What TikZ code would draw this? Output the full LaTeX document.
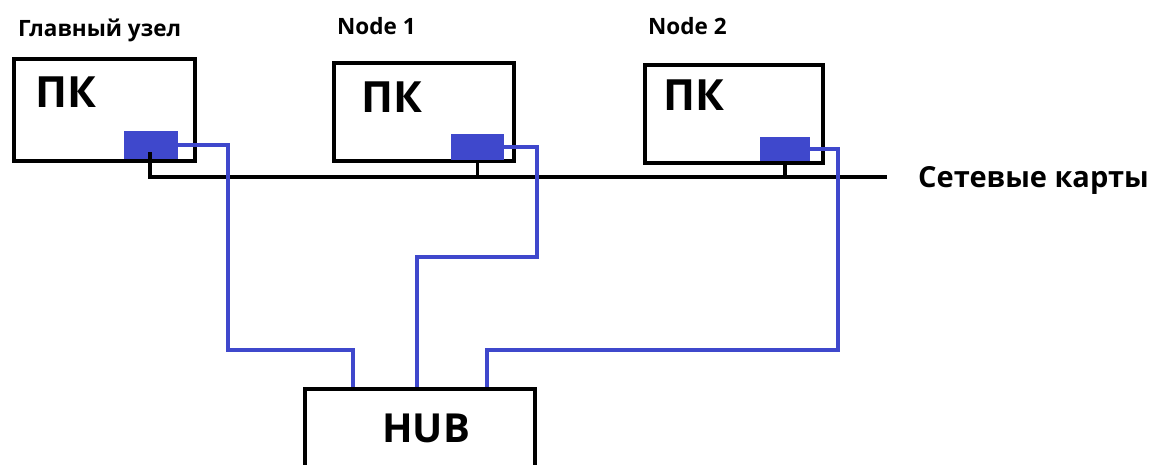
\documentclass[tikz,border=0pt]{standalone}
\usepackage{fontspec}
\setmainfont{Open Sans}
\definecolor{nicblue}{HTML}{3F48CC}
\begin{document}
\begin{tikzpicture}[x=1pt,y=-1pt,
  pcbox/.style={draw=black,line width=3.5pt,fill=white,anchor=north west,inner sep=0pt},
  nic/.style={fill=nicblue,anchor=north west,inner sep=0pt},
  wire/.style={draw=nicblue,line width=3.5pt,line join=miter},
  bus/.style={draw=black,line width=3.5pt},
  lbl/.style={anchor=base west,inner sep=0pt,font=\bfseries\fontsize{22.5}{26}\selectfont},
  pk/.style={anchor=base west,inner sep=0pt,font=\bfseries\fontsize{43}{50}\selectfont}]
\useasboundingbox[fill=white] (0,0) rectangle (1152,464);
% PC boxes
\node[pcbox,minimum width=181pt,minimum height=102pt] (pc1) at (12,57) {};
\node[pcbox,minimum width=180pt,minimum height=98pt] (pc2) at (332,61) {};
\node[pcbox,minimum width=178pt,minimum height=98pt] (pc3) at (643,63) {};
\node[pcbox,minimum width=230pt,minimum height=95pt] (hub) at (303,387) {};
% labels
\node[lbl] (t1) at (18,36) {Главный узел};
\node[lbl] (t2) at (337,34) {Node 1};
\node[lbl] (t3) at (648,34) {Node 2};
\node[pk] (k1) at (35,107) {ПК};
\node[pk] (k2) at (361,112) {ПК};
\node[pk] (k3) at (663,110) {ПК};
\node[pk,font=\bfseries\fontsize{40}{46}\selectfont] (hubt) at (382,442) {HUB};
\node[anchor=base west,inner sep=0pt,font=\bfseries\fontsize{29}{34}\selectfont] (net) at (918,187) {Сетевые карты};
% NICs
\node[nic,minimum width=54pt,minimum height=28pt] (nic1) at (124,131) {};
\node[nic,minimum width=53pt,minimum height=26pt] (nic2) at (451,134) {};
\node[nic,minimum width=50pt,minimum height=24pt] (nic3) at (760,137) {};
% bus
\coordinate (busR) at (887,177);
\draw[bus] ([xshift=-1pt,yshift=-7pt]nic1.center) |- (busR);
\draw[bus] (nic2.south) -- (nic2.south |- busR);
\draw[bus] (nic3.south) -- (nic3.south |- busR);
% hub ports
\coordinate (p1) at (353,387);
\coordinate (p2) at (417,387);
\coordinate (p3) at (487,387);
\draw[wire] (nic1.east) -| (228,350) -| (p1);
\draw[wire] (nic2.east) -| (537,257) -| (p2);
\draw[wire] (nic3.east) -| (838,350) -| (p3);
\end{tikzpicture}
\end{document}
